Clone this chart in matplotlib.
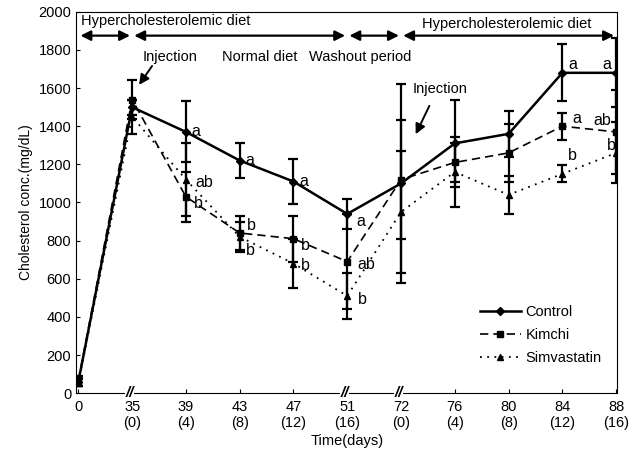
import matplotlib.pyplot as plt
from matplotlib.lines import Line2D
import numpy as np

plt.rcParams["font.family"] = ["Liberation Sans", "DejaVu Sans"]

days = ["0", "35\n(0)", "39\n(4)", "43\n(8)", "47\n(12)", "51\n(16)",
        "72\n(0)", "76\n(4)", "80\n(8)", "84\n(12)", "88\n(16)"]
control = [60, 1500, 1370, 1220, 1110, 940, 1100, 1310, 1360, 1680, 1680]
control_err = [20, 40, 160, 90, 120, 80, 520, 230, 120, 150, 180]
kimchi = [65, 1540, 1030, 840, 810, 690, 1120, 1210, 1260, 1400, 1370]
kimchi_err = [25, 100, 130, 90, 120, 250, 310, 100, 150, 70, 220]
simva = [55, 1450, 1120, 820, 680, 510, 950, 1160, 1040, 1150, 1260]
simva_err = [20, 90, 190, 80, 130, 120, 320, 185, 100, 45, 160]

control_letters = ["", "", "a", "a", "a", "a", "", "", "", "a", "a"]
kimchi_letters = ["", "", "b", "b", "b", "ab", "", "", "", "a", "ab"]
simva_letters = ["", "", "ab", "b", "b", "b", "", "", "", "b", "b"]

# pixel offsets of the significance letters
control_off = [None, None, (10, 0), (10, 0), (10, 0), (14, -8), None, None, None, (10, 8), (-9, 8)]
kimchi_off = [None, None, (12, -7), (12, 7), (12, -7), (19, -3), None, None, None, (14, 8), (-14, 11)]
simva_off = [None, None, (18, -3), (11, -14), (12, -2), (15, -4), None, None, None, (10, 18), (-5, 7)]

x = np.arange(len(days))

fig = plt.figure(figsize=(6.35, 4.54), dpi=100)
ax = fig.add_axes([0.12, 0.134, 0.852, 0.84])

styles = {
    "Control": dict(linestyle="-", linewidth=1.8, marker="D", markersize=4),
    "Kimchi": dict(linestyle=(0, (5, 3)), linewidth=1.2, marker="s", markersize=5),
    "Simvastatin": dict(linestyle=(0, (1, 3)), linewidth=1.3, marker="^", markersize=5),
}

for name, vals, err in [("Control", control, control_err),
                        ("Kimchi", kimchi, kimchi_err),
                        ("Simvastatin", simva, simva_err)]:
    ax.errorbar(x, vals, yerr=err, color="black", capsize=3.5, elinewidth=1.6,
                capthick=1.6, **styles[name])

for vals, letters, offs in [(control, control_letters, control_off),
                            (kimchi, kimchi_letters, kimchi_off),
                            (simva, simva_letters, simva_off)]:
    for i, (v, lab, off) in enumerate(zip(vals, letters, offs)):
        if lab:
            ax.annotate(lab, (x[i], v), xytext=off, textcoords="offset pixels",
                        ha="center", va="center", fontsize=11.5)

ax.set_xlim(-0.04, 10.02)
ax.set_ylim(0, 2000)
ax.set_yticks(np.arange(0, 2001, 200))
ax.set_xticks(x)
ax.set_xticklabels(days)
ax.tick_params(direction="in", length=3, labelsize=10.5)
ax.tick_params(axis="x", pad=5)
ax.set_xlabel("Time(days)", fontsize=10.5, labelpad=3)
ax.set_ylabel("Cholesterol conc.(mg/dL)", fontsize=10)

# axis breaks
trans = ax.get_xaxis_transform()
for i in [1, 5, 6]:
    ax.text(x[i] - 0.05, 0.0, "//", transform=trans, ha="center", va="center",
            fontsize=11, fontweight="bold", style="italic",
            bbox=dict(facecolor="white", edgecolor="none", pad=0))

# period arrows along the top
arrow_y = 1875
segments = [(0, 1), (1, 5), (5, 6), (6, 10)]
for a, b in segments:
    ax.annotate("", xy=(x[b] - 0.04, arrow_y), xytext=(x[a] + 0.04, arrow_y),
                arrowprops=dict(arrowstyle="<|-|>", color="black", lw=1.6,
                                mutation_scale=15, shrinkA=0, shrinkB=0))

ax.text(0.05, 1950, "Hypercholesterolemic diet", ha="left", va="center", fontsize=10.5)
ax.text(7.97, 1935, "Hypercholesterolemic diet", ha="center", va="center", fontsize=10.5)
ax.text(3.38, 1765, "Normal diet", ha="center", va="center", fontsize=10.5)
ax.text(5.24, 1765, "Washout period", ha="center", va="center", fontsize=10.5)
ax.text(1.71, 1765, "Injection", ha="center", va="center", fontsize=10.5)
ax.text(6.73, 1595, "Injection", ha="center", va="center", fontsize=10.5)
ax.annotate("", xy=(1.1, 1605), xytext=(1.4, 1728),
            arrowprops=dict(arrowstyle="-|>", color="black", lw=1.4, mutation_scale=15))
ax.annotate("", xy=(6.25, 1345), xytext=(6.55, 1520),
            arrowprops=dict(arrowstyle="-|>", color="black", lw=1.4, mutation_scale=15))

handles = [Line2D([], [], color="black", **styles[n]) for n in styles]
ax.legend(handles, list(styles), loc="lower right", bbox_to_anchor=(0.995, 0.04),
          frameon=False, fontsize=10.5, handlelength=2.8, labelspacing=0.6,
          handletextpad=0.3)

fig.savefig("out.png", dpi=100)
